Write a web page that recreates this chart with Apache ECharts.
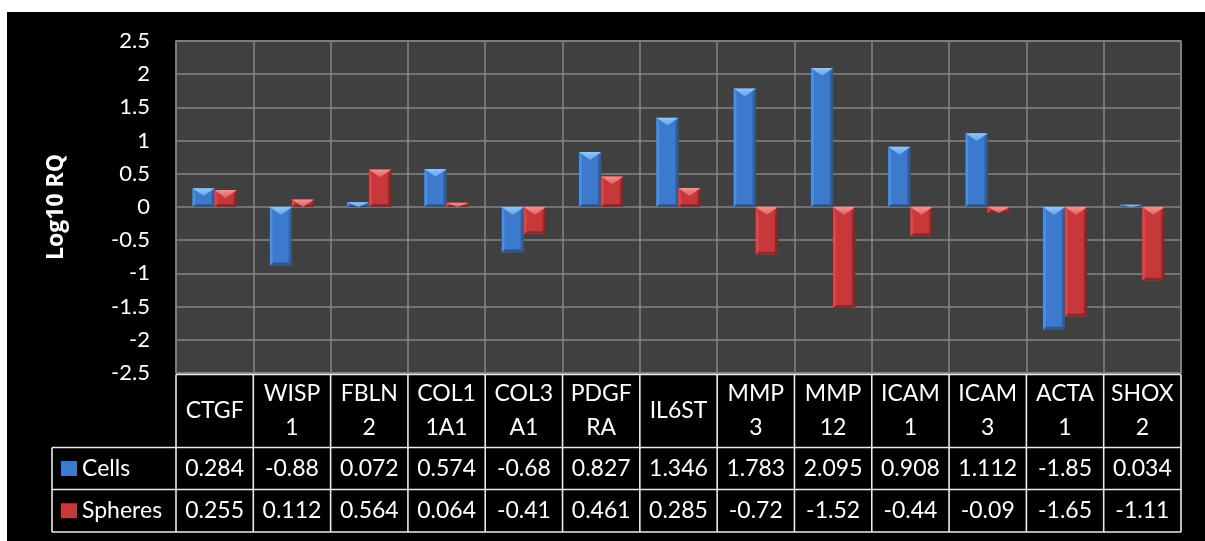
<!DOCTYPE html>
<html>
<head>
<meta charset="utf-8">
<script src="https://cdn.jsdelivr.net/npm/echarts@6/dist/echarts.min.js"></script>
<style>
  html, body { margin: 0; padding: 0; background: #ffffff; }
  #frame { position: absolute; left: 7px; top: 12px; width: 1198px; height: 529px; background: #000000; }
  #chart { position: absolute; left: 0; top: 0; width: 1205px; height: 541px; }
</style>
</head>
<body>
<div id="frame"></div>
<div id="chart"></div>
<script>
// Gene targets and their display labels (wrapped to fit the table columns)
const genes = ['CTGF', 'WISP1', 'FBLN2', 'COL11A1', 'COL3A1', 'PDGFRA', 'IL6ST',
               'MMP3', 'MMP12', 'ICAM1', 'ICAM3', 'ACTA1', 'SHOX2'];
const geneLabels = ['CTGF', 'WISP\n1', 'FBLN\n2', 'COL1\n1A1', 'COL3\nA1', 'PDGF\nRA', 'IL6ST',
                    'MMP\n3', 'MMP\n12', 'ICAM\n1', 'ICAM\n3', 'ACTA\n1', 'SHOX\n2'];

// Log10 relative quantification
const cells   = [0.284, -0.88, 0.072, 0.574, -0.68, 0.827, 1.346, 1.783, 2.095, 0.908, 1.112, -1.85, 0.034];
const spheres = [0.255, 0.112, 0.564, 0.064, -0.41, 0.461, 0.285, -0.72, -1.52, -0.44, -0.09, -1.65, -1.11];

const seriesNames = ['Cells', 'Spheres'];
const yMin = -2.5, yMax = 2.5, yStep = 0.5;

// Layout
const GRID = { left: 176, top: 41, width: 1005, height: 332 };
const TABLE = { catTop: 374.5, rowA: 447.5, rowB: 489.5, bottom: 532, keyLeft: 52 };
const FONT = 'Lato, "Open Sans", sans-serif';
const BAR_FRAC = 0.285;

const PALETTE = {
  Cells:   { body: '#3b7acd', light: '#4f8fde', dark: '#2a5b9f', bottom: '#2b5894', top0: '#95c6f7', top1: '#67a2e6' },
  Spheres: { body: '#c8373a', light: '#d64a4c', dark: '#8f2224', bottom: '#93282a', top0: '#f39393', top1: '#dd6061' }
};

// Beveled column: flat face, light top facet, darker right edge and base
function bevelBar(side, pal) {
  return function (params, api) {
    const idx = api.value(0);
    const val = api.value(1);
    const base = api.coord([idx, 0]);
    const tip = api.coord([idx, val]);
    const w = api.size([1, 0])[0] * BAR_FRAC;
    const x0 = side < 0 ? base[0] - w : base[0];
    const x1 = x0 + w;
    const xc = (x0 + x1) / 2;
    const top = Math.min(base[1], tip[1]);
    const bot = Math.max(base[1], tip[1]);
    const h = bot - top;
    const th = Math.min(w * 0.36, h);
    const bh = Math.min(3, h / 2);
    const edge = Math.min(2.5, w / 6);
    return {
      type: 'group',
      children: [
        { type: 'rect', shape: { x: x0, y: top, width: w, height: h },
          style: { fill: new echarts.graphic.LinearGradient(0, 0, 1, 0, [
            { offset: 0, color: pal.light }, { offset: 0.15, color: pal.body },
            { offset: 0.8, color: pal.body }, { offset: 1, color: pal.dark }]) } },
        { type: 'polygon', shape: { points: [[x1 - edge, top + th], [x1, top], [x1, bot], [x1 - edge, bot - bh]] },
          style: { fill: pal.dark } },
        { type: 'polygon', shape: { points: [[x0, top], [x0 + edge, top + th], [x0 + edge, bot - bh], [x0, bot]] },
          style: { fill: pal.light } },
        { type: 'polygon', shape: { points: [[x0, bot], [x1, bot], [x1 - bh, bot - bh], [x0 + bh, bot - bh]] },
          style: { fill: pal.bottom } },
        { type: 'polygon', shape: { points: [[x0, top], [x1, top], [xc, top + th]] },
          style: { fill: new echarts.graphic.LinearGradient(0, 0, 0, 1, [
            { offset: 0, color: pal.top0 }, { offset: 1, color: pal.top1 }]) } }
      ]
    };
  };
}

// One legend key per table row
function legendKey(name, top) {
  return {
    orient: 'vertical', left: 61, top: top,
    itemWidth: 16, itemHeight: 15, padding: 0,
    icon: 'rect', data: [name], selectedMode: false,
    textStyle: { color: '#ffffff', fontSize: 23, fontFamily: FONT, lineHeight: 23 }
  };
}

const chart = echarts.init(document.getElementById('chart'), null, { renderer: 'canvas' });

const option = {
  backgroundColor: 'transparent',
  animation: false,
  textStyle: { fontFamily: FONT },
  grid: {
    left: GRID.left, top: GRID.top, width: GRID.width, height: GRID.height,
    show: true, backgroundColor: '#404040', borderColor: '#848484', borderWidth: 1.5
  },
  legend: [
    legendKey(seriesNames[0], (TABLE.rowA + TABLE.rowB) / 2 - 11.5),
    legendKey(seriesNames[1], (TABLE.rowB + TABLE.bottom) / 2 - 11.5)
  ],
  xAxis: {
    type: 'category',
    data: genes,
    axisLine: { show: false },
    axisTick: { show: false },
    splitLine: { show: true, lineStyle: { color: '#848484', width: 1.5 } },
    axisLabel: {
      interval: 0, margin: 38, color: '#ffffff', fontSize: 23, fontFamily: FONT,
      lineHeight: 34, verticalAlign: 'middle',
      formatter: (v, i) => geneLabels[i]
    }
  },
  yAxis: {
    type: 'value', min: yMin, max: yMax, interval: yStep,
    name: 'Log10 RQ', nameLocation: 'middle', nameRotate: 90, nameGap: 108,
    nameTextStyle: { color: '#ffffff', fontSize: 23, fontWeight: 'bold', fontFamily: '"Open Sans", Lato, sans-serif' },
    axisLine: { show: false },
    axisTick: { show: false },
    splitLine: { show: true, lineStyle: { color: '#848484', width: 1.5 } },
    axisLabel: { color: '#ffffff', fontSize: 22, margin: 26, fontFamily: FONT }
  },
  series: [
    { name: 'Cells', type: 'custom', itemStyle: { color: PALETTE.Cells.body },
      renderItem: bevelBar(-1, PALETTE.Cells),
      encode: { x: 0, y: 1 },
      data: cells.map((v, i) => [i, v]), z: 3 },
    { name: 'Spheres', type: 'custom', itemStyle: { color: PALETTE.Spheres.body },
      renderItem: bevelBar(1, PALETTE.Spheres),
      encode: { x: 0, y: 1 },
      data: spheres.map((v, i) => [i, v]), z: 3 }
  ]
};

chart.setOption(option);

// Data table under the plot: grid lines and the value rows
function buildTable() {
  const centers = genes.map(g => chart.convertToPixel({ xAxisIndex: 0 }, g));
  const colW = GRID.width / genes.length;
  const right = GRID.left + GRID.width;
  const lineStyle = { stroke: '#ececec', lineWidth: 1.6 };
  const els = [];
  const hLine = (x1, x2, y) => els.push({ type: 'line', shape: { x1, y1: y, x2, y2: y }, style: lineStyle, silent: true });
  const vLine = (x, y1, y2) => els.push({ type: 'line', shape: { x1: x, y1, x2: x, y2 }, style: lineStyle, silent: true });

  hLine(GRID.left, right, TABLE.catTop);
  hLine(TABLE.keyLeft, right, TABLE.rowA);
  hLine(TABLE.keyLeft, right, TABLE.rowB);
  hLine(TABLE.keyLeft, right, TABLE.bottom);
  vLine(TABLE.keyLeft, TABLE.rowA, TABLE.bottom);
  centers.forEach(c => vLine(c - colW / 2, TABLE.catTop, TABLE.bottom));
  vLine(right, TABLE.catTop, TABLE.bottom);

  const rows = [[cells, (TABLE.rowA + TABLE.rowB) / 2], [spheres, (TABLE.rowB + TABLE.bottom) / 2]];
  rows.forEach(([vals, y]) => {
    vals.forEach((v, i) => {
      els.push({
        type: 'text', silent: true,
        style: { text: String(v), x: centers[i], y: y, fill: '#ffffff',
                 font: '23px ' + FONT, align: 'center', verticalAlign: 'middle' }
      });
    });
  });
  chart.setOption({ graphic: { elements: els } });
}
buildTable();
</script>
</body>
</html>
